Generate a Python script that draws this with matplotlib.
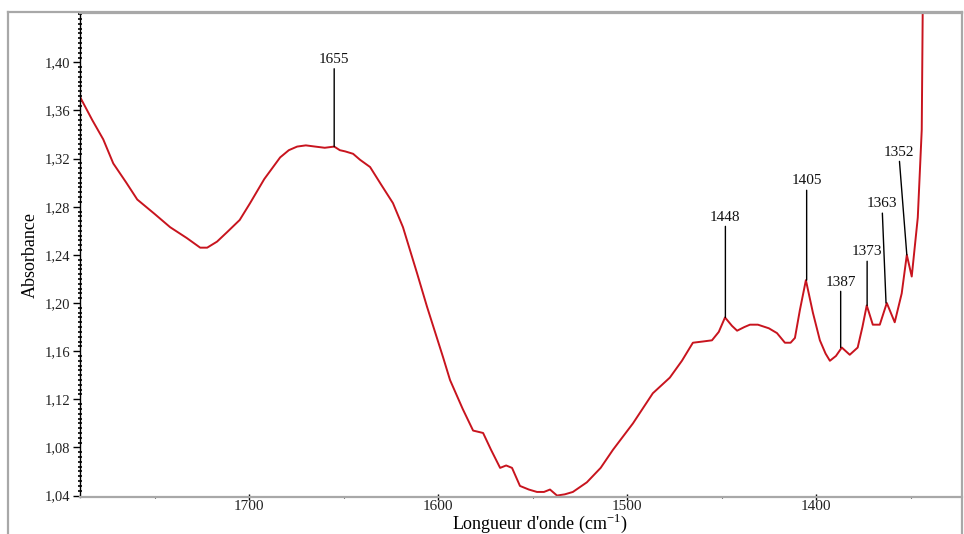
import numpy as np
import matplotlib.pyplot as plt
from matplotlib.lines import Line2D
from matplotlib.ticker import FuncFormatter, MultipleLocator

plt.rcParams["font.family"] = ["Liberation Serif", "DejaVu Serif"]
plt.rcParams["mathtext.fontset"] = "custom"
plt.rcParams["mathtext.rm"] = "Liberation Serif"

# FTIR spectrum, amide / CH region (wavenumber in cm-1, absorbance)
wavenumber = [
    1789.4, 1783.0, 1777.2, 1771.9, 1765.0, 1759.2, 1750.0, 1741.8, 1733.0,
    1725.9, 1722.2, 1717.0, 1711.6, 1705.0, 1699.5, 1692.0, 1683.6, 1679.0,
    1674.6, 1670.0, 1665.1, 1660.0, 1655.0, 1652.0, 1649.2, 1645.0, 1641.3,
    1636.0, 1630.0, 1623.9, 1618.6, 1611.2, 1605.9, 1597.4, 1593.7, 1587.0,
    1581.5, 1576.2, 1572.0, 1567.2, 1564.0, 1560.9, 1556.7, 1552.0, 1547.7,
    1544.0, 1540.8, 1537.1, 1533.0, 1528.7, 1521.3, 1514.0, 1507.5, 1496.9,
    1486.4, 1477.4, 1471.0, 1465.2, 1460.0, 1455.1, 1451.5, 1448.2, 1444.5,
    1441.8, 1438.0, 1435.0, 1430.8, 1425.0, 1420.7, 1416.5, 1413.5, 1411.2,
    1408.6, 1405.4, 1401.7, 1398.0, 1395.0, 1392.7, 1389.5, 1386.4, 1382.2,
    1378.0, 1375.5, 1373.2, 1370.0, 1366.3, 1362.6, 1358.4, 1354.7, 1352.0,
    1349.4, 1346.2, 1344.1, 1343.6,
]
absorbance = [
    1.371, 1.352, 1.336, 1.316, 1.300, 1.286, 1.274, 1.263, 1.254,
    1.246, 1.246, 1.251, 1.259, 1.269, 1.283, 1.303, 1.321, 1.327,
    1.330, 1.331, 1.330, 1.329, 1.330, 1.327, 1.326, 1.324, 1.319,
    1.313, 1.298, 1.283, 1.263, 1.225, 1.197, 1.155, 1.136, 1.112,
    1.094, 1.092, 1.078, 1.063, 1.065, 1.063, 1.048, 1.045, 1.043,
    1.043, 1.045, 1.040, 1.041, 1.043, 1.051, 1.063, 1.078, 1.100,
    1.125, 1.138, 1.152, 1.167, 1.168, 1.169, 1.176, 1.188, 1.181,
    1.177, 1.180, 1.182, 1.182, 1.179, 1.175, 1.167, 1.167, 1.171,
    1.194, 1.219, 1.192, 1.169, 1.158, 1.152, 1.156, 1.163, 1.157,
    1.163, 1.180, 1.198, 1.182, 1.182, 1.200, 1.184, 1.208, 1.240,
    1.222, 1.271, 1.344, 1.441,
]

# labelled bands: position, absorbance at the band, label base, label x
peak_wn = [1655, 1448, 1405, 1387, 1373, 1363, 1352]
peak_abs = [1.330, 1.188, 1.219, 1.163, 1.198, 1.200, 1.240]
label_abs = [1.397, 1.266, 1.296, 1.212, 1.237, 1.277, 1.320]
label_wn = [1655, 1448, 1405, 1387, 1373, 1365, 1356]

yticks = np.arange(1.04, 1.401, 0.04)

fig = plt.figure(figsize=(9.64, 5.34), dpi=100)
W, H = 964, 534
ax = fig.add_axes([80 / W, (H - 497) / H, (962 - 80) / W, (497 - 13) / H])

ax.plot(wavenumber, absorbance, color="#c8141e", lw=1.4)

for wn, a, la, lx in zip(peak_wn, peak_abs, label_abs, label_wn):
    ax.annotate(
        str(wn),
        xy=(wn, a),
        xytext=(lx, la),
        textcoords="data",
        ha="center",
        va="bottom",
        fontsize=11,
        color="#111111",
        arrowprops=dict(arrowstyle="-", color="black", lw=1.0, shrinkA=0, shrinkB=0,
                        relpos=(0.5, 0.0)),
    )

ax.set_xlim(1789.5, 1322.8)
ax.set_ylim(1.0388, 1.441)

ax.set_yticks(yticks)
ax.yaxis.set_major_formatter(FuncFormatter(lambda v, p: f"{v:.2f}".replace(".", ",")))
ax.yaxis.set_minor_locator(MultipleLocator(0.004))
ax.xaxis.set_major_locator(MultipleLocator(100))
ax.xaxis.set_minor_locator(MultipleLocator(50))

ax.tick_params(axis="y", which="major", direction="out", length=5, width=1.0,
               labelsize=10.5, pad=2, colors="black", labelcolor="#222222")
ax.tick_params(axis="y", which="minor", direction="inout", length=3, width=1.2)
ax.tick_params(axis="x", which="major", direction="inout", length=5, width=1.0,
               labelsize=11, pad=0, labelcolor="#222222")
ax.tick_params(axis="x", which="minor", direction="inout", length=2, width=0.8)

ax.spines["left"].set_color("black")
ax.spines["left"].set_linewidth(1.0)
ax.spines["left"].set_linestyle((0, (1, 1)))
ax.spines["bottom"].set_color("#a8a8a8")
ax.spines["bottom"].set_linewidth(1.6)
ax.spines["top"].set_color("#a8a8a8")
ax.spines["top"].set_linewidth(1.6)
ax.spines["right"].set_visible(False)

ax.set_ylabel("Absorbance", fontsize=13, labelpad=4)
ax.set_xlabel(r"Longueur d'onde (cm$^{\mathregular{-1}}$)", fontsize=13, labelpad=0)
ax.xaxis.set_label_coords((540 - 80) / (962 - 80), -0.031)

# window frame around the plot
gray = "#a8a8a8"
fig.add_artist(Line2D([8 / W, 8 / W], [0, (H - 12) / H], color=gray, lw=1.6))
fig.add_artist(Line2D([8 / W, 962 / W], [(H - 12) / H, (H - 12) / H], color=gray, lw=1.6))
fig.add_artist(Line2D([962 / W, 962 / W], [0, (H - 12) / H], color=gray, lw=1.6))

fig.savefig("out.png", dpi=100)
